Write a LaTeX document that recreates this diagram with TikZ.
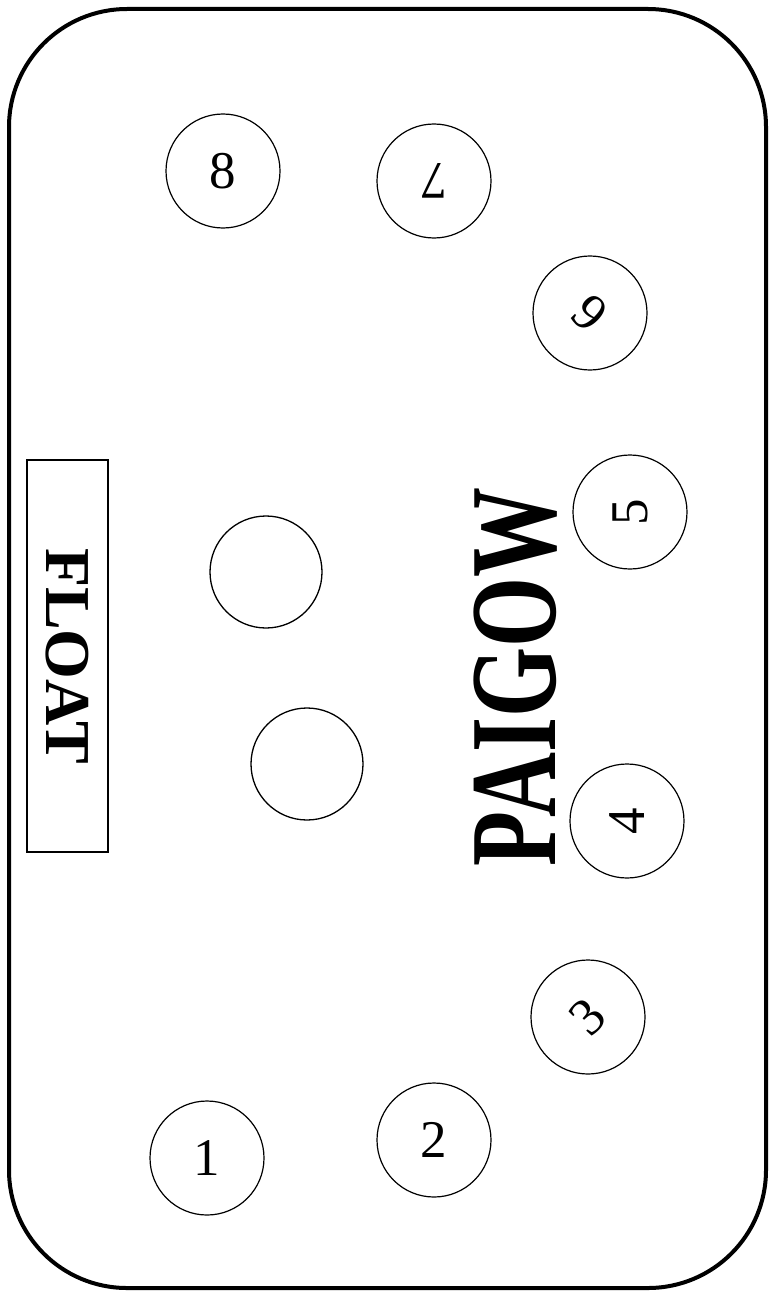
\documentclass[tikz,border=0pt]{standalone}
\usepackage{fontspec}
\setmainfont{Liberation Serif}
\usepackage{tikz}
\usetikzlibrary{calc}

\begin{document}
\begin{tikzpicture}[x=1pt,y=-1pt]
\def\rseat{57}
\pgfmathsetmacro\dseat{2*\rseat}
\tikzset{
  seat/.style={draw,circle,line width=1.2pt,minimum size=\dseat pt,inner sep=0pt,
    font=\fontsize{53}{53}\selectfont},
  spot/.style={draw,circle,line width=1.3pt,minimum size=112pt,inner sep=0pt},
}
\useasboundingbox (0,0) rectangle (771,1292);
% Table outline
\draw[line width=4pt,rounded corners=118pt] (9,9) rectangle (766,1288);
% Float box
\node[draw,line width=1.8pt,rotate=-90,minimum width=392pt,minimum height=81pt,
  inner sep=0pt,font=\bfseries\fontsize{64}{64}\selectfont] (float) at (67.5,656) {FLOAT};
% Player seats
\foreach \n/\x/\y/\r in {1/207/1158/0, 2/434/1140/0, 3/588/1017/45, 4/627/821/90,
  5/630/512/90, 6/590/313/135, 7/434/181/180, 8/223/171/0}
  \node[seat,rotate=\r] (s\n) at (\x,\y) {\n};
% Dealer spots
\node[spot] (spotA) at (266,572) {};
\node[spot] (spotB) at (307,764) {};
% Table name
\node[rotate=90,inner sep=0pt,font=\bfseries\fontsize{90}{90}\selectfont] (title)
  at (516,677) {\scalebox{1}[1.37]{PAIGOW}};
\end{tikzpicture}
\end{document}
